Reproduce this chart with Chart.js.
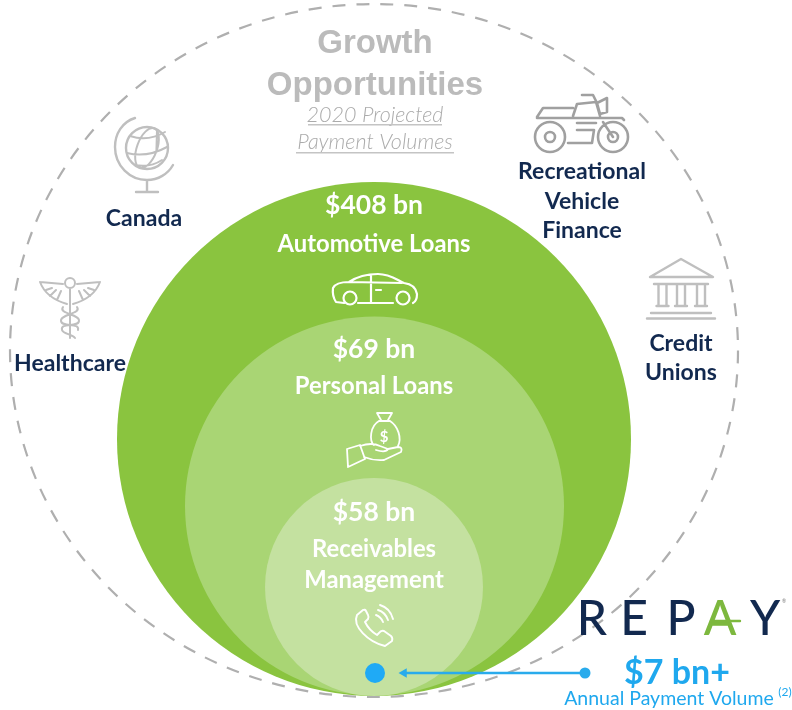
<!DOCTYPE html>
<html>
<head>
<meta charset="utf-8">
<title>Growth Opportunities</title>
<script src="https://cdn.jsdelivr.net/npm/chart.js@4"></script>
<style>
    html, body { margin: 0; padding: 0; background: #fff; }
    canvas { display: block; }
</style>
</head>
<body>
<canvas id="chart" width="792" height="710"></canvas>
<script>
// values ($ bn)
const categories = ['Automotive Loans', 'Personal Loans', 'Receivables Management', 'Annual Payment Volume'];
const volumes = [408, 69, 58, 7];
const outerSegments = ['Canada', 'Healthcare', 'Recreational Vehicle Finance', 'Credit Unions'];

// where the nested circles sit on the page (axis units are page pixels)
const circleX = [374, 374.5, 374, 375];
const circleY = [439, 506, 587, 673];
const circleR = [257, 189.5, 109, 10];
const circleColors = ['#8AC43F', '#A9D574', '#C4E1A0', '#1FAAF6'];

const NAVY = '#12294F';
const BLUE = '#1FA8EE';
const WHITE = '#FFFFFF';
const TITLE_GREY = '#BBBBBB';
const ICON_GREY = '#BFBFBF';
const SANS = 'Lato, "Open Sans", sans-serif';

function text(ctx, str, x, y, font, color) {
    ctx.font = font;
    ctx.fillStyle = color;
    ctx.textAlign = 'center';
    ctx.textBaseline = 'alphabetic';
    ctx.fillText(str, x, y);
}

function stroke(ctx, color, width, draw) {
    ctx.save();
    ctx.strokeStyle = color;
    ctx.lineWidth = width;
    ctx.lineCap = 'round';
    ctx.lineJoin = 'round';
    ctx.beginPath();
    draw(ctx);
    ctx.stroke();
    ctx.restore();
}

function drawGlobe(ctx) {
    stroke(ctx, ICON_GREY, 2.4, c => {
        c.moveTo(168, 148);
        c.arc(147, 148, 21, 0, Math.PI * 2);
        c.moveTo(135, 118);
        c.bezierCurveTo(122, 122, 115, 134, 115, 147);
        c.bezierCurveTo(115, 166, 130, 180, 147, 180);
        c.bezierCurveTo(158, 180, 168, 174, 173, 165);
        c.moveTo(147, 180); c.lineTo(147, 192);
        c.moveTo(136, 192); c.lineTo(158, 192);
    });
    stroke(ctx, ICON_GREY, 2, c => {
        c.moveTo(157, 130); c.ellipse(147, 148, 10, 21, 0.35, 0, Math.PI * 2);
        c.moveTo(130, 136); c.quadraticCurveTo(148, 142, 165, 132);
        c.moveTo(127, 153); c.quadraticCurveTo(147, 158, 167, 147);
        c.moveTo(135, 165); c.quadraticCurveTo(150, 168, 162, 160);
    });
}

function drawCaduceus(ctx) {
    stroke(ctx, ICON_GREY, 2, c => {
        c.moveTo(75, 283);
        c.arc(70, 283, 5, 0, Math.PI * 2);
        c.moveTo(70, 288); c.lineTo(70, 338);
        for (const s of [-1, 1]) {
            c.moveTo(70 + s * 30, 282);
            c.lineTo(70 + s * 7, 284);
            c.moveTo(70 + s * 30, 282);
            c.quadraticCurveTo(70 + s * 24, 298, 70 + s * 3, 304);
            c.moveTo(70 + s * 24, 290); c.lineTo(70 + s * 18, 288);
            c.moveTo(70 + s * 20, 296); c.lineTo(70 + s * 14, 290);
            c.moveTo(70 + s * 13, 300); c.lineTo(70 + s * 9, 291);
        }
        c.moveTo(63, 307);
        c.bezierCurveTo(58, 314, 80, 314, 79, 321);
        c.bezierCurveTo(78, 328, 60, 322, 62, 330);
        c.bezierCurveTo(63, 334, 72, 334, 75, 338);
        c.moveTo(77, 307);
        c.bezierCurveTo(82, 314, 60, 314, 61, 321);
        c.bezierCurveTo(62, 328, 80, 322, 78, 330);
    });
}

function drawMotorcycle(ctx) {
    const grey = '#A0A0A0';
    stroke(ctx, grey, 2.6, c => {
        c.moveTo(565, 137); c.arc(550, 137, 15, 0, Math.PI * 2);
        c.moveTo(555, 137); c.arc(550, 137, 5, 0, Math.PI * 2);
        c.moveTo(628, 137); c.arc(613, 137, 15, 0, Math.PI * 2);
        c.moveTo(618, 137); c.arc(613, 137, 5, 0, Math.PI * 2);
        // seat and frame
        c.moveTo(537, 117); c.lineTo(543, 108); c.lineTo(573, 108);
        c.moveTo(537, 118); c.lineTo(622, 118);
        c.lineTo(624, 120);
        // tank, handlebar, headlight
        c.moveTo(573, 116); c.lineTo(577, 104); c.lineTo(596, 102); c.lineTo(600, 116);
        c.moveTo(582, 95); c.lineTo(593, 95); c.lineTo(597, 103);
        c.moveTo(597, 103); c.lineTo(607, 98); c.lineTo(607, 112); c.lineTo(600, 114); c.closePath();
        // engine
        c.moveTo(577, 123); c.lineTo(596, 123);
        c.moveTo(577, 130); c.lineTo(594, 130); c.lineTo(592, 143); c.lineTo(568, 143);
        c.moveTo(603, 122); c.lineTo(613, 137);
    });
}

function drawTemple(ctx) {
    stroke(ctx, ICON_GREY, 2.4, c => {
        c.moveTo(650, 277); c.lineTo(681, 259); c.lineTo(713, 277); c.closePath();
        c.moveTo(654, 284); c.lineTo(708, 284);
        for (const x of [662.5, 681, 701]) {
            c.moveTo(x - 4, 285); c.lineTo(x - 4, 306);
            c.moveTo(x + 4, 285); c.lineTo(x + 4, 306);
            c.moveTo(x - 6, 306); c.lineTo(x + 6, 306);
        }
        c.moveTo(651, 313); c.lineTo(711, 313);
        c.moveTo(647, 318.5); c.lineTo(715, 318.5);
    });
}

function drawCar(ctx) {
    stroke(ctx, WHITE, 2.2, c => {
        c.moveTo(344, 303);
        c.lineTo(336, 302);
        c.quadraticCurveTo(332, 296, 333, 288);
        c.quadraticCurveTo(336, 282, 349, 282);
        c.bezierCurveTo(358, 276, 368, 274, 378, 274);
        c.bezierCurveTo(390, 274, 397, 280, 404, 283);
        c.bezierCurveTo(412, 284, 416, 288, 417, 294);
        c.quadraticCurveTo(417, 301, 413, 303);
        c.moveTo(393, 303); c.lineTo(358, 303);
        c.moveTo(356.5, 298); c.arc(350, 298, 6.5, 0, Math.PI * 2);
        c.moveTo(409.5, 298); c.arc(403, 298, 6.5, 0, Math.PI * 2);
        c.moveTo(349, 282); c.lineTo(402, 283);
        c.moveTo(371, 275); c.lineTo(371, 303);
        c.moveTo(376, 290); c.lineTo(381, 290);
    });
}

function drawMoneyHand(ctx) {
    stroke(ctx, WHITE, 1.8, c => {
        // bag
        c.moveTo(379, 421);
        c.bezierCurveTo(370, 426, 369, 441, 374, 445);
        c.moveTo(390, 421);
        c.bezierCurveTo(398, 426, 402, 438, 398, 446);
        c.moveTo(379, 421); c.lineTo(390, 421);
        c.moveTo(381, 420); c.lineTo(377, 413); c.lineTo(392, 413); c.lineTo(388, 420);
        // hand and wrist
        c.moveTo(347, 449); c.lineTo(360, 445); c.lineTo(365, 459); c.lineTo(348, 467); c.closePath();
        c.moveTo(360, 446);
        c.quadraticCurveTo(372, 442, 380, 446);
        c.lineTo(388, 449);
        c.quadraticCurveTo(386, 453, 376, 450);
        c.moveTo(388, 449); c.lineTo(398, 447);
        c.quadraticCurveTo(403, 447, 401, 452);
        c.lineTo(384, 460);
        c.quadraticCurveTo(374, 461, 364, 457);
    });
    text(ctx, '$', 384, 442, 'bold 15px ' + SANS, WHITE);
}

function drawPhone(ctx) {
    stroke(ctx, WHITE, 1.9, c => {
        c.moveTo(363, 610);
        c.lineTo(357, 615);
        c.bezierCurveTo(352, 626, 368, 642, 385, 646);
        c.lineTo(392, 641);
        c.quadraticCurveTo(393, 638, 391, 636);
        c.lineTo(384, 631);
        c.quadraticCurveTo(381, 630, 379, 633);
        c.lineTo(377, 635);
        c.bezierCurveTo(372, 632, 367, 626, 365, 622);
        c.lineTo(368, 619);
        c.quadraticCurveTo(369, 617, 368, 615);
        c.lineTo(366, 611);
        c.quadraticCurveTo(365, 609, 363, 610);
        c.moveTo(376, 615); c.quadraticCurveTo(381, 617, 383, 622);
        c.moveTo(378, 610); c.quadraticCurveTo(385, 612, 388, 620);
        c.moveTo(380, 605); c.quadraticCurveTo(390, 608, 393, 619);
    });
}

function drawLogo(ctx) {
    const font = '500 48px ' + SANS;
    text(ctx, 'R', 592, 635, font, NAVY);
    text(ctx, 'E', 634, 635, font, NAVY);
    text(ctx, 'P', 681, 635, font, NAVY);
    text(ctx, 'Y', 765, 635, font, NAVY);
    // the green A of the logo has a crossbar running past its right leg
    text(ctx, 'A', 720, 635, font, '#7DB83E');
    stroke(ctx, '#7DB83E', 2.4, c => {
        c.moveTo(711, 621); c.lineTo(740, 621);
    });
    text(ctx, '®', 784, 603, '5px ' + SANS, '#777777');
}

function drawTexts(ctx) {
    // title block
    text(ctx, 'Growth', 375, 53, 'bold 33px "Liberation Sans", Arial, sans-serif', TITLE_GREY);
    text(ctx, 'Opportunities', 375, 95, 'bold 33px "Liberation Sans", Arial, sans-serif', TITLE_GREY);
    const subFont = 'italic 300 21.5px ' + SANS;
    text(ctx, '2020 Projected', 375, 122, subFont, '#ABABAB');
    text(ctx, 'Payment Volumes', 375, 149, subFont, '#ABABAB');
    ctx.fillStyle = '#C4C4C4';
    ctx.fillRect(308, 124, 134, 1.5);
    ctx.fillRect(296, 152, 158, 1.5);

    // outer segments
    const segFont = 'bold 23px ' + SANS;
    text(ctx, outerSegments[0], 144, 226, segFont, NAVY);
    text(ctx, outerSegments[1], 70, 371, segFont, NAVY);
    text(ctx, 'Recreational', 582, 179, segFont, NAVY);
    text(ctx, 'Vehicle', 582, 209, segFont, NAVY);
    text(ctx, 'Finance', 582, 238, segFont, NAVY);
    text(ctx, 'Credit', 681, 351, segFont, NAVY);
    text(ctx, 'Unions', 681, 380, segFont, NAVY);

    // circle labels
    const bigFont = 'bold 26.5px ' + SANS;
    const labelFont = 'bold 23.8px ' + SANS;
    text(ctx, `$${volumes[0]} bn`, 374, 214, bigFont, WHITE);
    text(ctx, categories[0], 374, 252, labelFont, WHITE);
    text(ctx, `$${volumes[1]} bn`, 374, 358, bigFont, WHITE);
    text(ctx, categories[1], 374, 394, labelFont, WHITE);
    text(ctx, `$${volumes[2]} bn`, 374, 521, bigFont, WHITE);
    text(ctx, 'Receivables', 374, 557, labelFont, WHITE);
    text(ctx, 'Management', 374, 588, labelFont, WHITE);

    // repay callout
    text(ctx, `$${volumes[3]} bn+`, 677, 684, 'bold 34px ' + SANS, BLUE);
    text(ctx, categories[3], 669, 705, '400 19.5px ' + SANS, BLUE);
    text(ctx, '(2)', 785, 696, '12px ' + SANS, BLUE);
}

const infographic = {
    id: 'infographic',
    beforeDatasetsDraw(chart) {
        const { ctx, scales: { x, y } } = chart;
        ctx.save();
        ctx.strokeStyle = '#AFAFAF';
        ctx.lineWidth = 2.2;
        ctx.setLineDash([13, 11]);
        ctx.beginPath();
        ctx.ellipse(x.getPixelForValue(374), y.getPixelForValue(350.5), 364, 346.5, 0, 0, Math.PI * 2);
        ctx.stroke();
        ctx.restore();
    },
    afterDatasetsDraw(chart) {
        const { ctx } = chart;
        ctx.save();
        drawGlobe(ctx);
        drawCaduceus(ctx);
        drawMotorcycle(ctx);
        drawTemple(ctx);
        drawCar(ctx);
        drawMoneyHand(ctx);
        drawPhone(ctx);
        drawLogo(ctx);
        drawTexts(ctx);
        ctx.restore();
    }
};

new Chart(document.getElementById('chart'), {
    type: 'bubble',
    data: {
        datasets: [
            {
                type: 'line',
                label: 'callout',
                order: 0,
                data: [{ x: 585, y: 673 }, { x: 404, y: 673 }],
                borderColor: '#29ABEC',
                borderWidth: 2.4,
                pointBackgroundColor: '#29ABEC',
                pointBorderWidth: 0,
                pointStyle: ['circle', 'triangle'],
                pointRadius: [5.5, 5.5],
                pointRotation: [0, -90]
            },
            {
                label: 'Payment volumes',
                order: 1,
                data: volumes.map((v, i) => ({ x: circleX[i], y: circleY[i], r: circleR[i], v })),
                backgroundColor: circleColors,
                borderWidth: 0,
                hoverBorderWidth: 0,
                clip: false
            }
        ]
    },
    options: {
        responsive: false,
        animation: false,
        // big bubbles would otherwise push the plot area inwards
        layout: { padding: 0, autoPadding: false },
        plugins: { legend: { display: false }, tooltip: { enabled: false } },
        scales: {
            x: { type: 'linear', display: false, min: 0, max: 792 },
            y: { type: 'linear', display: false, min: 0, max: 710, reverse: true }
        }
    },
    plugins: [infographic]
});
</script>
</body>
</html>
